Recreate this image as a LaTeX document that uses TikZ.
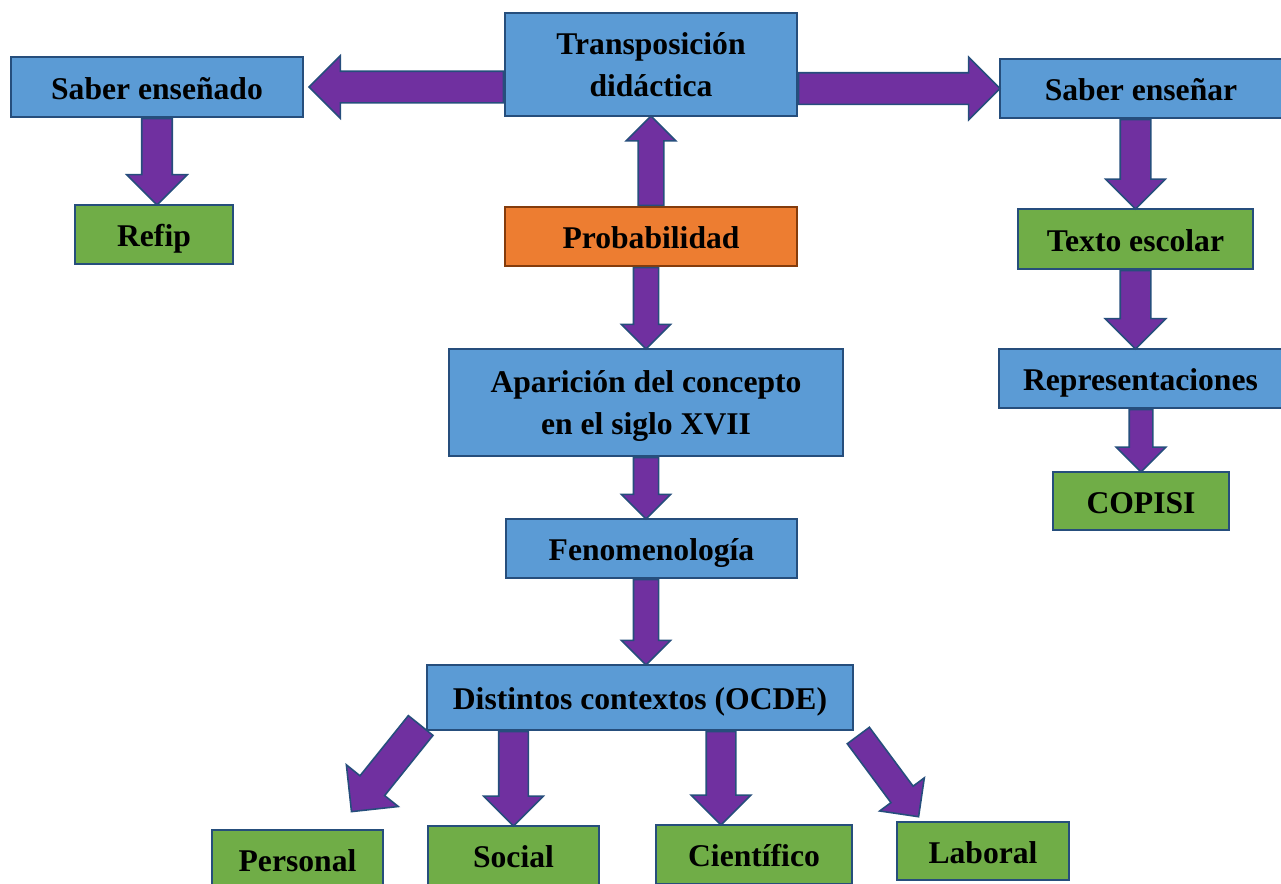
\documentclass[tikz,border=0pt]{standalone}
\usepackage{fontspec}
\setmainfont{Liberation Serif}
\usetikzlibrary{shapes.arrows,calc}
\definecolor{boxblue}{RGB}{91,155,213}
\definecolor{boxgreen}{RGB}{112,173,71}
\definecolor{boxorange}{RGB}{237,125,49}
\definecolor{edgebrown}{RGB}{132,60,12}
\definecolor{edgeblue}{RGB}{38,78,124}
\definecolor{arrowpurple}{RGB}{112,48,160}
\begin{document}
\begin{tikzpicture}[x=0.02cm, y=-0.02cm,
    box/.style={draw=edgeblue, line width=1pt, align=center, inner sep=0pt, text height=0.5cm, text depth=0.02cm, font=\fontsize{18}{24}\selectfont\bfseries},
    twoline/.style={text height=1.35cm, text depth=0.08cm},
    bluebox/.style={box, fill=boxblue},
    greenbox/.style={box, fill=boxgreen},
    blockarrow/.style 2 args={to path={let \p1=(\tikztostart), \p2=(\tikztotarget), \n1={atan2(\y2-\y1,\x2-\x1)}, \n2={veclen(\x2-\x1,\y2-\y1)} in
      (\tikztostart) node[single arrow, draw=edgeblue, fill=arrowpurple, line width=0.9pt, minimum width=0pt, inner xsep=0pt, inner ysep=#1, single arrow head extend=#2, minimum height=\n2, rotate=\n1, anchor=tail] {}}}]
    \useasboundingbox (0,0) rectangle (1281,883);
    \node[bluebox, twoline, minimum width=5.84cm, minimum height=2.06cm] (trans) at (651,64.5) {Transposición\\didáctica};
    \node[bluebox, minimum width=5.84cm, minimum height=1.2cm] (saberdo) at (157,87) {Saber enseñado};
    \node[bluebox, minimum width=5.64cm, minimum height=1.18cm] (saberar) at (1141,88.5) {Saber enseñar};
    \node[greenbox, minimum width=3.16cm, minimum height=1.18cm] (refip) at (154,234.5) {Refip};
    \node[box, fill=boxorange, draw=edgebrown, minimum width=5.84cm, minimum height=1.18cm] (prob) at (651,236.5) {Probabilidad};
    \node[greenbox, minimum width=4.7cm, minimum height=1.2cm] (texto) at (1135.5,239) {Texto escolar};
    \node[bluebox, minimum width=5.66cm, minimum height=1.18cm] (repr) at (1140.5,378.5) {Representaciones};
    \node[greenbox, minimum width=3.52cm, minimum height=1.16cm] (copisi) at (1141,501) {COPISI};
    \node[bluebox, twoline, minimum width=7.88cm, minimum height=2.14cm] (apar) at (646,402.5) {Aparición del concepto\\en el siglo XVII};
    \node[bluebox, minimum width=5.82cm, minimum height=1.18cm] (fenom) at (651.5,548.5) {Fenomenología};
    \node[bluebox, minimum width=8.52cm, minimum height=1.3cm] (dist) at (640,697.5) {Distintos contextos (OCDE)};
    \node[greenbox, minimum width=3.42cm, minimum height=1.18cm] (personal) at (297.5,859.5) {Personal};
    \node[greenbox, minimum width=3.42cm, minimum height=1.18cm] (social) at (513.5,855.5) {Social};
    \node[greenbox, minimum width=3.92cm, minimum height=1.18cm] (cient) at (754,854.5) {Científico};
    \node[greenbox, minimum width=3.44cm, minimum height=1.16cm] (laboral) at (983,851) {Laboral};
    \path[blockarrow={0.3cm}{0.31cm}] (trans.west |- saberdo.east) to ([xshift=0.12cm]saberdo.east);
    \path[blockarrow={0.3cm}{0.31cm}] (trans.east |- saberar.west) to (saberar.west);
    \path[blockarrow={0.24cm}{0.24cm}] (prob.north) to (trans.south);
    \path[blockarrow={0.29cm}{0.3cm}] (saberdo.south) to (saberdo.south |- refip.north);
    \path[blockarrow={0.29cm}{0.29cm}] (texto.north |- saberar.south) to (texto.north);
    \path[blockarrow={0.29cm}{0.3cm}] (texto.south) to (texto.south |- repr.north);
    \path[blockarrow={0.22cm}{0.26cm}] (copisi.north |- repr.south) to (copisi.north);
    \path[blockarrow={0.235cm}{0.24cm}] (apar.north |- prob.south) to (apar.north);
    \path[blockarrow={0.235cm}{0.24cm}] (apar.south) to (apar.south |- fenom.north);
    \path[blockarrow={0.235cm}{0.24cm}] (apar.south |- fenom.south) to (apar.south |- dist.north);
    \path[blockarrow={0.28cm}{0.3cm}] (social.north |- dist.south) to (social.north);
    \path[blockarrow={0.28cm}{0.3cm}] ($(cient.north |- dist.south)+(-33,0)$) to ($(cient.north)+(-33,0)$);
    \path[blockarrow={0.3cm}{0.35cm}] ($(dist.south west)+(-5,-6)$) to ($(personal.north east)+(-32,-18)$);
    \path[blockarrow={0.26cm}{0.28cm}] ($(dist.south east)+(4,4)$) to ($(laboral.north west)+(22,-5)$);
  \end{tikzpicture}
\end{document}
